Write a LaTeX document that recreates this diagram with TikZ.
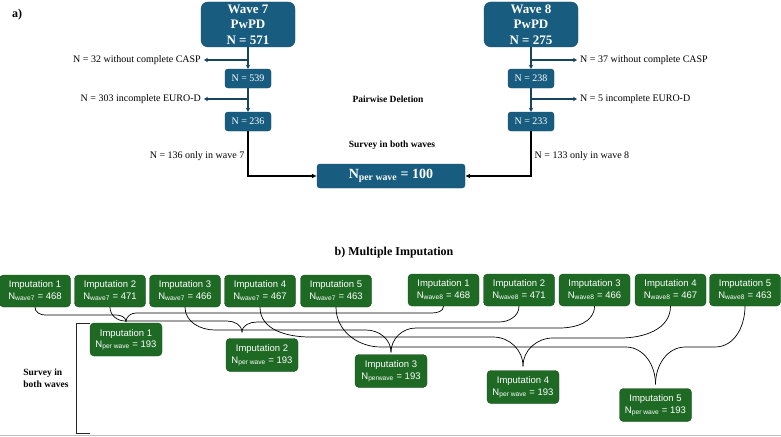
\documentclass[tikz,border=0pt]{standalone}
\usepackage{fontspec}
\setmainfont{Liberation Serif}
\setsansfont{Liberation Sans}
\usetikzlibrary{arrows.meta,calc}

\definecolor{boxblue}{RGB}{24,93,128}
\definecolor{lineblue}{RGB}{22,68,98}
\definecolor{boxgreen}{RGB}{30,106,36}

\begin{document}
\begin{tikzpicture}[x=1pt,y=-1pt,
  bluebox/.style={draw=boxblue!75!black,fill=boxblue,rounded corners=3pt,
    text=white,align=center,inner sep=0pt},
  bigbox/.style={bluebox,rounded corners=7pt,minimum width=94pt,minimum height=45pt,
    font=\fontsize{13}{15.5}\selectfont\bfseries},
  smallbox/.style={bluebox,minimum width=46pt,minimum height=19pt,
    font=\fontsize{10}{12}\selectfont},
  imputbox/.style={draw=boxgreen!70!black,fill=boxgreen,rounded corners=4pt,
    text=white,align=center,minimum width=71pt,minimum height=32pt,inner sep=0pt,
    font=\sffamily\fontsize{9.5}{11.5}\selectfont},
  lost/.style={font=\fontsize{10}{12}\selectfont,inner sep=3pt},
  title/.style={font=\fontsize{9.5}{11.5}\selectfont\bfseries},
  dropline/.style={draw=lineblue,line width=1.2pt,-{Stealth[length=4pt,width=4.5pt]}},
  mergeline/.style={draw=black,line width=1.4pt,-{Latex[length=5pt,width=5pt]}},
  link/.style={draw=black,line width=0.7pt}]
\useasboundingbox (0,0) rectangle (781,436);

% a) pairwise deletion
\node[font=\fontsize{12}{14}\selectfont\bfseries] (parta) at (17,15) {a)};
\node[bigbox] (wave7) at (248,24.5) {Wave 7\\PwPD\\N = 571};
\node[smallbox] (n539) at (248,78.5) {N = 539};
\node[smallbox] (n236) at (248,121.5) {N = 236};
\node[bigbox] (wave8) at (531,24.5) {Wave 8\\PwPD\\N = 275};
\node[smallbox] (n238) at (531,78.5) {N = 238};
\node[smallbox] (n233) at (531,121.5) {N = 233};
\node[bluebox,minimum width=148pt,minimum height=24pt,
  font=\fontsize{14}{16}\selectfont\bfseries] (both) at (391,176)
  {N\textsubscript{per wave} = 100};

\node[lost,anchor=east] (cut7a) at (204,60) {N = 32 without complete CASP};
\node[lost,anchor=east] (cut7b) at (204,99) {N = 303 incomplete EURO-D};
\node[lost,anchor=west] (cut8a) at (577,60) {N = 37 without complete CASP};
\node[lost,anchor=west] (cut8b) at (577,99) {N = 5 incomplete EURO-D};

\node[title] (pairwise) at (388,99) {Pairwise Deletion};
\node[title] (surveya) at (392,145) {Survey in both waves};

\draw[dropline] (wave7) -- (n539);
\draw[dropline] (n539) -- (n236);
\draw[dropline] (wave8) -- (n238);
\draw[dropline] (n238) -- (n233);
\draw[dropline] (wave7.south |- cut7a.east) -- (cut7a.east);
\draw[dropline] (n539.south |- cut7b.east) -- (cut7b.east);
\draw[dropline] (wave8.south |- cut8a.west) -- (cut8a.west);
\draw[dropline] (n238.south |- cut8b.west) -- (cut8b.west);

\draw[mergeline] (n236) |- (both)
  node[pos=0.28,left,lost] {N = 136 only in wave 7};
\draw[mergeline] (n233) |- (both)
  node[pos=0.28,right,lost] {N = 133 only in wave 8};

% b) multiple imputation
\node[font=\fontsize{12}{14}\selectfont\bfseries] (partb) at (394,253) {b) Multiple Imputation};

\foreach \k/\x/\n in {1/35/468,2/110/471,3/185/466,4/260/467,5/336/463}
  \node[imputbox] (w7-\k) at (\x,291) {Imputation \k\\N\textsubscript{wave7} = \n};
\foreach \k/\x/\n in {1/443.5/468,2/519/471,3/594.5/466,4/670.5/467,5/745/463}
  \node[imputbox] (w8-\k) at (\x,290) {Imputation \k\\N\textsubscript{wave8} = \n};
\foreach \k/\x/\y/\s in {1/126/339.5/per wave,2/262/355/per wave,3/391/371/perwave,
    4/523/387/per wave,5/655.5/405/per wave}
  \node[imputbox,minimum width=72pt,minimum height=33pt] (pw-\k) at (\x,\y)
    {Imputation \k\\N\textsubscript{\s} = 193};

\foreach \k/\la/\ra/\lb/\rb/\rj/\jx/\jy in {1/315/10/313/12/10/0/1,
    2/321/15/322/20/15/-20/6,3/330/30/328/35/25/0/2,
    4/337/50/338/50/30/0/4,5/347/45/347/30/30/0/4}{
  \draw[link] (w7-\k.south) to[out=-90,in=180] ($(w7-\k.south |- 0,\la)+(\ra,0)$)
    -- ($(pw-\k.north |- 0,\la)+(-\rj+\jx,0)$)
    to[out=0,in=90] ([xshift=\jx pt,yshift=\jy pt]pw-\k.north);
  \draw[link] (w8-\k.south) to[out=-90,in=0] ($(w8-\k.south |- 0,\lb)+(-\rb,0)$)
    -- ($(pw-\k.north |- 0,\lb)+(\rj+\jx,0)$)
    to[out=180,in=90] ([xshift=\jx pt,yshift=\jy pt]pw-\k.north);
}

\node[title,align=left] (surveyb) at (46,378) {Survey in\\both waves};
\draw[line width=0.8pt,black!85] (90,323) -- (76,323) -- (76,433) -- (90,433);
\draw[black!25,line width=0.8pt] (0,435) -- (781,435);
\end{tikzpicture}
\end{document}
